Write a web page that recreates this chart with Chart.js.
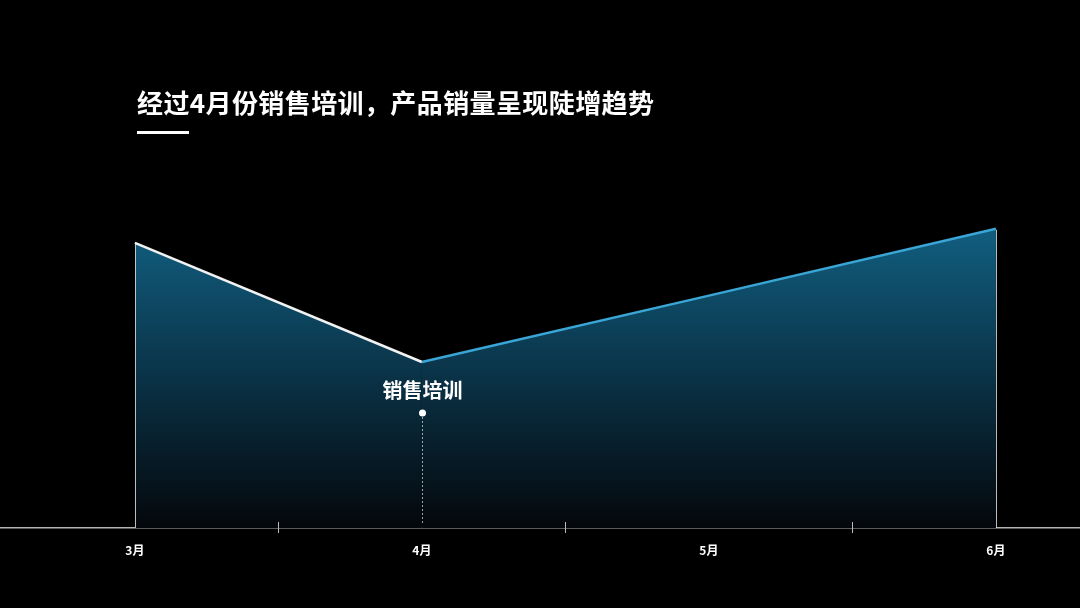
<!DOCTYPE html>
<html>
<head>
<meta charset="utf-8">
<script src="https://cdn.jsdelivr.net/npm/chart.js@4/dist/chart.umd.min.js"></script>
<style>
  html, body { margin: 0; padding: 0; background: #000; }
  #wrap { position: relative; width: 1080px; height: 608px; }
  #title {
    position: absolute; left: 137px; top: 83px;
    color: #fff; font: bold 26px "Noto Sans CJK SC", sans-serif; letter-spacing: 0.4px;
  }
  #bar { position: absolute; left: 137px; top: 131px; width: 52px; height: 3px; background: #fff; }
</style>
</head>
<body>
<div id="wrap">
  <canvas id="chartSales" width="1080" height="608"></canvas>
  <div id="title">经过4月份销售培训，产品销量呈现陡增趋势</div>
  <div id="bar"></div>
</div>
<script>
const months = ['3月', '4月', '5月', '6月']
const sales = [71.3, 41.5, 58.1, 74.8]
const eventIndex = 1
const eventLabel = '销售培训'

const points = []
for (var i = 0; i < months.length; i++) {
  points.push({x: i, y: sales[i]})
}

// edges of the area, the dashed marker and the minor ticks on the axis
const extras = {
  id: 'extras',
  afterDatasetsDraw(chart) {
    const ctx = chart.ctx
    const x = chart.scales.x
    const y = chart.scales.y
    const bottom = y.getPixelForValue(0)
    const meta = chart.getDatasetMeta(0).data

    ctx.save()
    ctx.strokeStyle = 'rgba(220,220,220,0.85)'
    ctx.lineWidth = 1
    ;[0, meta.length - 1].forEach(function (k) {
      ctx.beginPath()
      ctx.moveTo(Math.round(meta[k].x) + 0.5, meta[k].y + 1)
      ctx.lineTo(Math.round(meta[k].x) + 0.5, bottom)
      ctx.stroke()
    })

    const ex = Math.round(meta[eventIndex].x) + 0.5
    const dotY = meta[eventIndex].y + 51
    ctx.setLineDash([2, 2])
    ctx.strokeStyle = 'rgba(200,200,200,0.8)'
    ctx.beginPath()
    ctx.moveTo(ex, dotY)
    ctx.lineTo(ex, bottom - 4)
    ctx.stroke()
    ctx.setLineDash([])

    ctx.fillStyle = '#fff'
    ctx.beginPath()
    ctx.arc(ex, dotY, 3.5, 0, Math.PI * 2)
    ctx.fill()

    ctx.font = 'bold 20px "Noto Sans CJK SC", sans-serif'
    ctx.textAlign = 'center'
    ctx.textBaseline = 'middle'
    ctx.fillText(eventLabel, ex, meta[eventIndex].y + 28)

    ctx.strokeStyle = '#bbb'
    for (var m = 0.5; m < months.length - 1; m++) {
      const px = Math.round(x.getPixelForValue(m)) + 0.5
      ctx.beginPath()
      ctx.moveTo(px, bottom - 6)
      ctx.lineTo(px, bottom + 5)
      ctx.stroke()
    }
    ctx.restore()
  }
}

new Chart(document.getElementById('chartSales'), {
  type: 'line',
  data: {
    datasets: [{
      data: points,
      borderWidth: 2.5,
      pointRadius: 0,
      tension: 0,
      fill: 'origin',
      segment: {
        borderColor: function (c) { return c.p0DataIndex < eventIndex ? '#f2f2f2' : '#3aa6d6' }
      },
      backgroundColor: function (c) {
        const area = c.chart.chartArea
        if (!area) return 'rgba(16,90,122,1)'
        const g = c.chart.ctx.createLinearGradient(0, area.top + 100, 0, area.bottom)
        g.addColorStop(0, 'rgba(17,94,128,1)')
        g.addColorStop(0.5, 'rgba(10,50,70,1)')
        g.addColorStop(1, 'rgba(4,7,11,1)')
        return g
      }
    }]
  },
  options: {
    responsive: false,
    animation: false,
    layout: { padding: { top: 128, left: 0, right: 0, bottom: 0 } },
    plugins: { legend: { display: false }, tooltip: { enabled: false } },
    scales: {
      x: {
        type: 'linear',
        min: -0.47,
        max: 3.293,
        afterBuildTicks: function (s) { s.ticks = months.map(function (m, i) { return {value: i} }) },
        afterFit: function (s) { s.height = 80 },
        ticks: {
          color: '#fff',
          padding: 15,
          maxRotation: 0,
          font: { size: 12, weight: 'bold', family: '"Noto Sans CJK SC", sans-serif' },
          callback: function (v) { return months[v] }
        },
        grid: { display: false, drawTicks: false },
        border: { display: true, color: '#b4b4b4', width: 1.5 }
      },
      y: {
        display: false,
        min: 0,
        max: 100
      }
    }
  },
  plugins: [extras]
});
</script>
</body>
</html>
